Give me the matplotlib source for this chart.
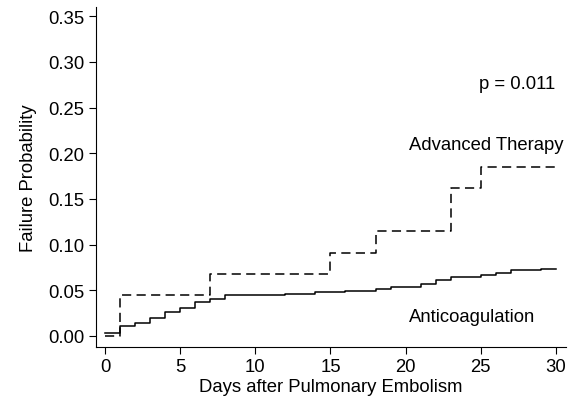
import matplotlib
matplotlib.use('Agg')
import matplotlib.pyplot as plt

plt.rcParams['font.family'] = ['Liberation Sans', 'DejaVu Sans']

# Anticoagulation (solid) step curve: day -> failure probability
anti_days = [0, 1, 2, 3, 4, 5, 6, 7, 8, 12, 14, 16, 18, 19, 21, 22, 23, 25, 26, 27, 29, 30]
anti_prob = [0.003, 0.0106, 0.0139, 0.0194, 0.026, 0.031, 0.037, 0.040, 0.0445, 0.0456,
             0.0478, 0.0489, 0.051, 0.0536, 0.0569, 0.0616, 0.0645, 0.0664, 0.0693,
             0.0722, 0.0733, 0.0733]

# Advanced therapy (dashed) step curve
adv_days = [0, 1, 7, 15, 18, 23, 25, 30]
adv_prob = [0.0, 0.0445, 0.0675, 0.0908, 0.1149, 0.1615, 0.1845, 0.1845]

yticks = [0.00, 0.05, 0.10, 0.15, 0.20, 0.25, 0.30, 0.35]
xticks = [0, 5, 10, 15, 20, 25, 30]

fs = 13.3

fig = plt.figure(figsize=(5.79, 4.14), dpi=100)
ax = fig.add_axes([0.1658, 0.1602, 0.8117, 0.8205])

ax.step(anti_days, anti_prob, where='post', color='black', lw=1.1)
ax.step(adv_days, adv_prob, where='post', color='black', lw=1.1, linestyle=(0, (6, 3.5)))

ax.set_xlim(-0.6, 30.67)
ax.set_ylim(-0.0117, 0.36)
ax.set_xticks(xticks)
ax.set_yticks(yticks)
ax.set_yticklabels(['%.2f' % v for v in yticks])
ax.spines['top'].set_visible(False)
ax.spines['right'].set_visible(False)
ax.tick_params(direction='out', length=5, labelsize=fs, colors='black')

ax.set_xlabel('Days after Pulmonary Embolism', fontsize=fs, labelpad=1.5)
ax.set_ylabel('Failure Probability', fontsize=fs, labelpad=8)

ax.text(24.9, 0.276, 'p = 0.011', fontsize=fs, va='center')
ax.text(20.2, 0.209, 'Advanced Therapy', fontsize=fs, va='center')
ax.text(20.2, 0.021, 'Anticoagulation', fontsize=fs, va='center')

fig.savefig('out.png', dpi=100)
